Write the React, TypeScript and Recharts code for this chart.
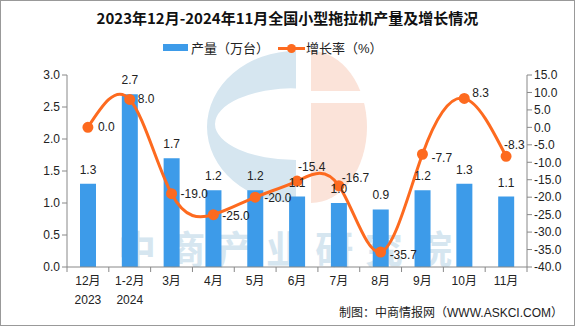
import React from 'react'
import {
  ComposedChart,
  Bar,
  Line,
  XAxis,
  YAxis,
  LabelList,
} from 'recharts'

const months = ['12月', '1-2月', '3月', '4月', '5月', '6月', '7月', '8月', '9月', '10月', '11月']
const years = ['2023', '2024', '', '', '', '', '', '', '', '', '']
const output = [1.3, 2.7, 1.7, 1.2, 1.2, 1.1, 1.0, 0.9, 1.2, 1.3, 1.1]
const growth = [0.0, 8.0, -19.0, -25.0, -20.0, -15.4, -16.7, -35.7, -7.7, 8.3, -8.3]
const leftTicks = [0, 0.5, 1, 1.5, 2, 2.5, 3]
const rightTicks = [-40, -35, -30, -25, -20, -15, -10, -5, 0, 5, 10, 15]

// label nudges for the growth line, [dx, dy]
const growthLabelShift: [number, number][] = [
  [10, 4], [8, 4], [9, 4], [9, 5], [9, 5], [1, -10], [3, -4], [9, 7], [9, 8], [8, -1], [-2, -7],
]

const data = months.map((m, i) => ({ m, year: years[i], output: output[i], growth: growth[i] }))

const W = 575
const H = 326
const BLUE = '#3d9be9'
const ORANGE = '#fd6a1f'
const FONT = '"Liberation Sans", "Noto Sans CJK SC", sans-serif'
const band = (W - 67 - 48) / months.length

function XTick({ x, y, payload, index }: any) {
  const d = data[index]
  return (
    <g>
      <line x1={x - band / 2} x2={x - band / 2} y1={y - 8} y2={y - 3} stroke="#888" />
      {index === months.length - 1 && (
        <line x1={x + band / 2} x2={x + band / 2} y1={y - 8} y2={y - 3} stroke="#888" />
      )}
      <text x={x} y={y + 10} textAnchor="middle" fontSize={12} fill="#222" fontFamily={FONT}>
        {payload.value}
      </text>
      {d?.year && (
        <text x={x} y={y + 29} textAnchor="middle" fontSize={12} fill="#222" fontFamily={FONT}>
          {d.year}
        </text>
      )}
    </g>
  )
}

function GrowthLabel({ x, y, value, index }: any) {
  const [dx, dy] = growthLabelShift[index] || [8, 4]
  return (
    <text x={x + dx} y={y + dy} fontSize={12} fill="#222" fontFamily={FONT}>
      {Number(value).toFixed(1)}
    </text>
  )
}

export default function App() {
  return (
    <div style={{ position: 'absolute', left: 0, top: 0, width: W, height: H, background: '#fff', fontFamily: FONT }}>
      <div style={{ position: 'absolute', left: 0, top: 0, width: W - 2, height: H - 2, border: '1px solid #999' }} />
      {/* faded logo + name watermark */}
      <svg width={W} height={H} style={{ position: 'absolute', left: 0, top: 0 }}>
        <path
          d="M296 51 A89 76 0 0 0 296 203 Z M296 88 L296 160 A81 36 0 0 1 296 88 Z"
          fill="#d6e6f0"
          fillRule="evenodd"
        />
        <path d="M311 51 A56 76 0 0 1 311 203 Z" fill="#fbe3d9" />
        <rect x={300} y={91} width={80} height={12} fill="#fff" />
        <text
          x={118}
          y={263}
          fontSize={38}
          fontWeight="bold"
          fill="#d6e6f0"
          fontFamily='"Noto Sans CJK SC", sans-serif'
          textLength={334}
          lengthAdjust="spacing"
        >
          中商产业研究院
        </text>
      </svg>
      <div style={{ position: 'absolute', top: 7, width: W, textAlign: 'center', fontSize: 15, fontWeight: 'bold', color: '#111', fontFamily: '"Noto Sans CJK SC", sans-serif' }}>
        2023年12月-2024年11月全国小型拖拉机产量及增长情况
      </div>
      <div style={{ position: 'absolute', top: 38, left: 0, width: W, fontSize: 13, color: '#222' }}>
        <div style={{ position: 'absolute', left: 163, top: 6, width: 25, height: 7, background: BLUE }} />
        <div style={{ position: 'absolute', left: 191, top: 0 }}>产量（万台）</div>
        <div style={{ position: 'absolute', left: 278, top: 9, width: 27, height: 3, background: ORANGE }} />
        <div style={{ position: 'absolute', left: 287, top: 6, width: 9, height: 9, borderRadius: 5, background: ORANGE }} />
        <div style={{ position: 'absolute', left: 306, top: 0 }}>增长率（%）</div>
      </div>
      <ComposedChart
        width={W}
        height={H}
        data={data}
        margin={{ top: 75, right: 0, left: 0, bottom: 19 }}
        style={{ position: 'absolute', left: 0, top: 0 }}
      >
        <XAxis
          dataKey="m"
          height={40}
          tick={<XTick />}
          tickLine={false}
          axisLine={{ stroke: '#888' }}
          interval={0}
        />
        <YAxis
          yAxisId="left"
          width={67}
          domain={[0, 3]}
          ticks={leftTicks}
          tickFormatter={(v: number) => v.toFixed(1)}
          tick={{ fontSize: 12, fill: '#222', fontFamily: FONT }}
          axisLine={{ stroke: '#888' }}
          tickLine={{ stroke: '#888' }}
          tickSize={5}
          interval={0}
        />
        <YAxis
          yAxisId="right"
          orientation="right"
          width={48}
          domain={[-40, 15]}
          ticks={rightTicks}
          tickFormatter={(v: number) => v.toFixed(1)}
          tick={{ fontSize: 12, fill: '#222', fontFamily: FONT }}
          axisLine={{ stroke: '#888' }}
          tickLine={{ stroke: '#888' }}
          tickSize={5}
          interval={0}
        />
        <Bar yAxisId="left" dataKey="output" fill={BLUE} barSize={16} isAnimationActive={false}>
          <LabelList
            dataKey="output"
            position="top"
            offset={10}
            formatter={(v: any) => Number(v).toFixed(1)}
            style={{ fontSize: 12, fill: '#222', fontFamily: FONT }}
          />
        </Bar>
        <Line
          yAxisId="right"
          type="natural"
          dataKey="growth"
          stroke={ORANGE}
          strokeWidth={3}
          dot={{ r: 4, fill: ORANGE, stroke: ORANGE }}
          isAnimationActive={false}
        >
          <LabelList dataKey="growth" content={<GrowthLabel />} />
        </Line>
      </ComposedChart>
      <div style={{ position: 'absolute', right: 12, top: 303, fontSize: 12, color: '#222' }}>
        制图：中商情报网（WWW.ASKCI.COM）
      </div>
    </div>
  )
}
